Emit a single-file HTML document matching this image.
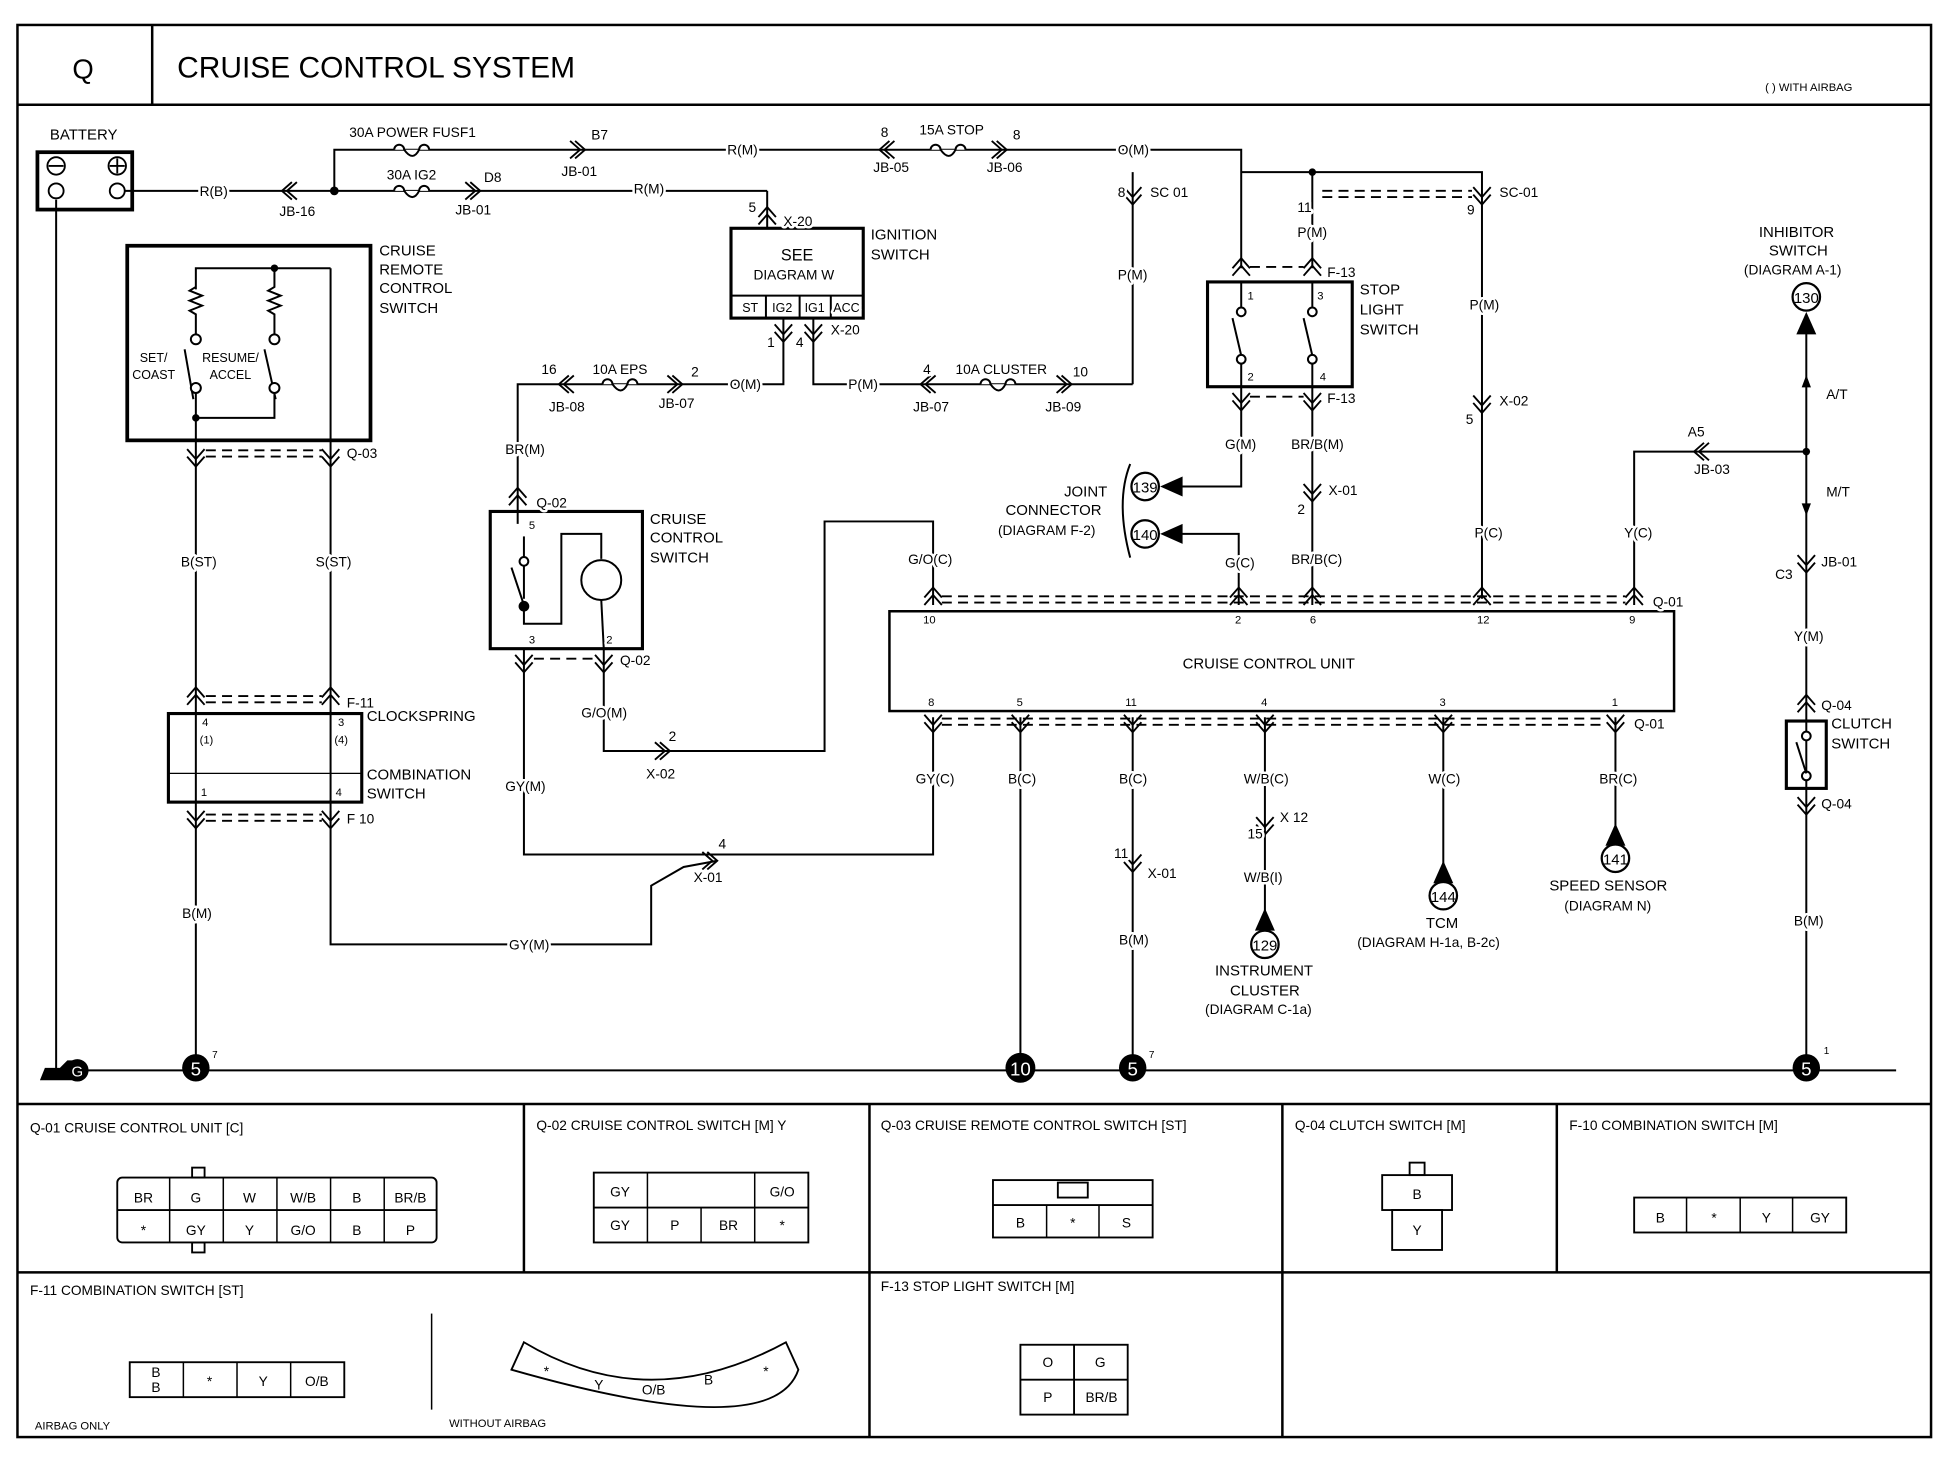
<!DOCTYPE html>
<html><head><meta charset="utf-8"><style>
html,body{margin:0;padding:0;background:#fff}
svg{display:block}
text{font-family:"Liberation Sans",sans-serif;fill:#000}
.h text{paint-order:stroke;stroke:#fff;stroke-width:4px;stroke-linejoin:round}
</style></head><body>
<svg width="1956" height="1472" viewBox="0 0 1568 1180" xmlns="http://www.w3.org/2000/svg">
<defs>
<symbol id="cd" overflow="visible"><path d="M-7,-5 L0,3 L7,-5 M-7,1 L0,9 L7,1" fill="none" stroke="#000" stroke-width="1.5"/></symbol>
<symbol id="cu" overflow="visible"><path d="M-7,5 L0,-3 L7,5 M-7,-1 L0,-9 L7,-1" fill="none" stroke="#000" stroke-width="1.5"/></symbol>
<symbol id="cl" overflow="visible"><path d="M5,-7 L-3,0 L5,7 M1,-7 L-7,0 L1,7" fill="none" stroke="#000" stroke-width="1.5"/></symbol>
<symbol id="cr" overflow="visible"><path d="M-5,-7 L3,0 L-5,7 M-1,-7 L7,0 L-1,7" fill="none" stroke="#000" stroke-width="1.5"/></symbol>
<symbol id="fuse" overflow="visible"><path d="M-14,0 a4,4 0 1 1 8,0 q7,10 12,0 a4,4 0 1 1 8,0" fill="#fff" stroke="#000" stroke-width="1.6"/></symbol>
</defs>
<rect width="1568" height="1180" fill="#fff"/>
<g fill="none" stroke="#000" stroke-width="2">
<rect x="14" y="20" width="1534" height="1132"/>
<line x1="14" y1="84" x2="1548" y2="84"/>
<line x1="122" y1="20" x2="122" y2="84"/>
<line x1="14" y1="885" x2="1548" y2="885"/>
<line x1="14" y1="1020" x2="1548" y2="1020"/>
<line x1="420" y1="885" x2="420" y2="1020"/>
<line x1="697" y1="885" x2="697" y2="1152"/>
<line x1="1028" y1="885" x2="1028" y2="1152"/>
<line x1="1248" y1="885" x2="1248" y2="1020"/>
</g>
<text x="58" y="63" font-size="22">Q</text>
<text x="142" y="62" font-size="24">CRUISE CONTROL SYSTEM</text>
<text x="1415" y="73" font-size="9">(      )  WITH AIRBAG</text>

<g fill="none" stroke="#000" stroke-width="1.6">
<rect x="30" y="122" width="76" height="46" stroke-width="3"/>
<line x1="45" y1="160" x2="45" y2="858"/>
<line x1="100" y1="153" x2="615" y2="153"/>
<polyline points="615,153 615,183"/>
<polyline points="268,153 268,120 995,120 995,215"/>
<polyline points="908,308 908,138"/>
<polyline points="995,138 1188,138 1188,480"/>
<line x1="1052" y1="138" x2="1052" y2="215"/>
<rect x="586" y="183" width="106" height="72" stroke-width="2.5"/>
<line x1="586" y1="237" x2="692" y2="237"/>
<line x1="614" y1="237" x2="614" y2="255"/><line x1="641" y1="237" x2="641" y2="255"/><line x1="666" y1="237" x2="666" y2="255"/>
<polyline points="628,255 628,308 415,308 415,420"/>
<polyline points="652,255 652,308 908,308"/>
<rect x="968" y="226" width="116" height="84" stroke-width="2.5"/>
<polyline points="995,310 995,390 945,390"/>
<polyline points="945,428 993,428 993,485"/>
<line x1="1052" y1="310" x2="1052" y2="485"/>
<rect x="713" y="490" width="629" height="80" stroke-width="2"/>
<polyline points="1310,485 1310,362 1448,362"/>
<line x1="1448" y1="260" x2="1448" y2="858"/>
<rect x="1432" y="578" width="32" height="54" stroke-width="2.5"/>
<polyline points="748,485 748,418 661,418 661,602 484,602 484,520"/>
<polyline points="748,575 748,685 420,685 420,520"/>
<polyline points="265,650 265,757 522,757 522,710 548,695 575,690"/>
<line x1="818" y1="575" x2="818" y2="858"/>
<line x1="908" y1="575" x2="908" y2="858"/>
<line x1="1014" y1="575" x2="1014" y2="735"/>
<line x1="1157" y1="575" x2="1157" y2="700"/>
<line x1="1295" y1="575" x2="1295" y2="670"/>
<rect x="102" y="197" width="195" height="156" stroke-width="3"/>
<line x1="157" y1="353" x2="157" y2="858"/>
<line x1="265" y1="353" x2="265" y2="660"/>
<rect x="135" y="572" width="155" height="71" stroke-width="2.5"/>
<line x1="135" y1="620" x2="290" y2="620" stroke-width="1"/>
<rect x="393" y="410" width="122" height="110" stroke-width="2.5"/>
<line x1="45" y1="858" x2="1520" y2="858"/>
<polyline points="157,232 157,215 265,215"/>
<path d="M157,230 l-5,3 10,4 -10,4 10,4 -10,4 5,3 v16"/>
<path d="M220,215 v15 l-5,3 10,4 -10,4 10,4 -10,4 5,3 v16"/>
<line x1="265" y1="215" x2="265" y2="353"/>
<line x1="157" y1="315" x2="157" y2="353"/>
<line x1="155" y1="320" x2="148" y2="280"/>
<line x1="221" y1="320" x2="212" y2="280"/>
<polyline points="157,335 220,335 220,314"/>
<circle cx="157" cy="272" r="4" fill="#fff"/><circle cx="157" cy="311" r="4" fill="#fff"/>
<circle cx="220" cy="272" r="4" fill="#fff"/><circle cx="220" cy="311" r="4" fill="#fff"/>
<polyline points="420,430 420,480"/>
<line x1="420" y1="485" x2="410" y2="455"/>
<circle cx="420" cy="450" r="3.5" fill="#fff"/><circle cx="420" cy="486" r="3.5" fill="#fff"/>
<polyline points="420,490 420,500 450,500 450,428 482,428 482,448"/>
<circle cx="482" cy="465" r="16"/>
<line x1="482" y1="481" x2="484" y2="520"/>
<circle cx="1448" cy="590" r="3.5" fill="#fff"/><circle cx="1448" cy="622" r="3.5" fill="#fff"/>
<line x1="1448" y1="620" x2="1440" y2="595"/>
<circle cx="995" cy="250" r="3.5" fill="#fff"/><circle cx="995" cy="288" r="3.5" fill="#fff"/>
<line x1="995" y1="285" x2="988" y2="255"/>
<circle cx="1052" cy="250" r="3.5" fill="#fff"/><circle cx="1052" cy="288" r="3.5" fill="#fff"/>
<line x1="1052" y1="285" x2="1045" y2="255"/>
<line x1="995" y1="226" x2="995" y2="246"/><line x1="995" y1="292" x2="995" y2="310"/>
<line x1="1052" y1="226" x2="1052" y2="246"/><line x1="1052" y1="292" x2="1052" y2="310"/>
<path d="M906,372 q-12,30 0,75" />
</g>
<g fill="none" stroke="#000" stroke-width="1.5">
<circle cx="45" cy="133" r="7"/><line x1="39" y1="133" x2="51" y2="133"/>
<circle cx="94" cy="133" r="7"/><line x1="88" y1="133" x2="100" y2="133"/><line x1="94" y1="127" x2="94" y2="139"/>
<circle cx="45" cy="153" r="6" fill="#fff"/><circle cx="94" cy="153" r="6" fill="#fff"/>
</g>
<circle cx="268" cy="153" r="3.5"/><circle cx="220" cy="215" r="3"/><circle cx="157" cy="335" r="3"/>
<circle cx="1052" cy="138" r="3"/><circle cx="1448" cy="362" r="3"/><circle cx="420" cy="486" r="3"/>
<use href="#fuse" x="330" y="120"/><use href="#fuse" x="330" y="153"/><use href="#fuse" x="760" y="120"/>
<use href="#fuse" x="497" y="308"/><use href="#fuse" x="800" y="308"/>
<use href="#cl" x="233" y="153"/><use href="#cr" x="462" y="120"/><use href="#cr" x="378" y="153"/>
<use href="#cl" x="712" y="120"/><use href="#cr" x="800" y="120"/>
<use href="#cu" x="615" y="175"/><use href="#cd" x="628" y="265"/><use href="#cd" x="652" y="265"/>
<use href="#cl" x="455" y="308"/><use href="#cr" x="540" y="308"/>
<use href="#cl" x="745" y="308"/><use href="#cr" x="852" y="308"/>
<use href="#cd" x="908" y="155"/><use href="#cd" x="1188" y="155"/>
<use href="#cu" x="995" y="216"/><use href="#cu" x="1052" y="216"/>
<use href="#cd" x="995" y="320"/><use href="#cd" x="1052" y="320"/>
<use href="#cd" x="1052" y="393"/><use href="#cd" x="1188" y="322"/>
<use href="#cu" x="415" y="400"/>
<use href="#cu" x="748" y="480"/><use href="#cu" x="993" y="480"/><use href="#cu" x="1052" y="480"/><use href="#cu" x="1188" y="480"/><use href="#cu" x="1310" y="480"/>
<use href="#cd" x="748" y="578"/><use href="#cd" x="818" y="578"/><use href="#cd" x="908" y="578"/><use href="#cd" x="1014" y="578"/><use href="#cd" x="1157" y="578"/><use href="#cd" x="1295" y="578"/>
<use href="#cd" x="157" y="365"/><use href="#cd" x="265" y="365"/>
<use href="#cu" x="157" y="560"/><use href="#cu" x="265" y="560"/>
<use href="#cd" x="157" y="655"/><use href="#cd" x="265" y="655"/>
<use href="#cd" x="420" y="530"/><use href="#cd" x="484" y="530"/>
<use href="#cr" x="530" y="602"/><use href="#cr" x="568" y="690"/>
<use href="#cd" x="908" y="690"/><use href="#cd" x="1014" y="660"/>
<use href="#cl" x="1365" y="362"/><use href="#cd" x="1448" y="450"/>
<use href="#cu" x="1448" y="566"/><use href="#cd" x="1448" y="644"/>
<g stroke="#000" stroke-width="1.5" stroke-dasharray="8,5">
<line x1="165" y1="361" x2="258" y2="361"/><line x1="165" y1="366" x2="258" y2="366"/>
<line x1="165" y1="558" x2="258" y2="558"/><line x1="165" y1="563" x2="258" y2="563"/>
<line x1="165" y1="653" x2="258" y2="653"/><line x1="165" y1="658" x2="258" y2="658"/>
<line x1="1060" y1="153" x2="1180" y2="153"/><line x1="1060" y1="158" x2="1180" y2="158"/>
<line x1="1002" y1="214" x2="1045" y2="214"/><line x1="1002" y1="318" x2="1045" y2="318"/>
<line x1="428" y1="528" x2="477" y2="528"/>
<line x1="755" y1="478" x2="1303" y2="478"/><line x1="755" y1="483" x2="1303" y2="483"/>
<line x1="755" y1="576" x2="1288" y2="576"/><line x1="755" y1="581" x2="1288" y2="581"/>
</g>
<path d="M1448,250 l-8,18 h16z"/><circle cx="1448" cy="238" r="11" fill="#fff" stroke="#000" stroke-width="1.8"/><text x="1448" y="243" font-size="12" text-anchor="middle">130</text>
<path d="M930,390 l18,-8 v16z"/><circle cx="918" cy="390" r="11" fill="#fff" stroke="#000" stroke-width="1.8"/><text x="918" y="395" font-size="12" text-anchor="middle">139</text>
<path d="M930,428 l18,-8 v16z"/><circle cx="918" cy="428" r="11" fill="#fff" stroke="#000" stroke-width="1.8"/><text x="918" y="433" font-size="12" text-anchor="middle">140</text>
<path d="M1014,728 l-8,18 h16z"/><circle cx="1014" cy="757" r="11" fill="#fff" stroke="#000" stroke-width="1.8"/><text x="1014" y="762" font-size="12" text-anchor="middle">129</text>
<path d="M1157,690 l-8,18 h16z"/><circle cx="1157" cy="718" r="11" fill="#fff" stroke="#000" stroke-width="1.8"/><text x="1157" y="723" font-size="12" text-anchor="middle">144</text>
<path d="M1295,660 l-8,18 h16z"/><circle cx="1295" cy="688" r="11" fill="#fff" stroke="#000" stroke-width="1.8"/><text x="1295" y="693" font-size="12" text-anchor="middle">141</text>
<path d="M1448,302 l-3,8 h6z M1448,310 v18" stroke="#000"/>
<path d="M1448,412 l-3,-8 h6z M1448,404 v-18" stroke="#000"/>
<circle cx="157" cy="856" r="11"/><text x="157" y="862" font-size="15" text-anchor="middle" style="fill:#fff">5</text>
<circle cx="818" cy="856" r="12"/><text x="818" y="862" font-size="15" text-anchor="middle" style="fill:#fff">10</text>
<circle cx="908" cy="856" r="11"/><text x="908" y="862" font-size="15" text-anchor="middle" style="fill:#fff">5</text>
<circle cx="1448" cy="856" r="11"/><text x="1448" y="862" font-size="15" text-anchor="middle" style="fill:#fff">5</text>
<path d="M32,866 l4,-10 h12 l6,-6 h10 v16z"/><circle cx="62" cy="858" r="9"/><text x="62" y="863" font-size="12" text-anchor="middle" style="fill:#fff">G</text>
<text x="170" y="848" font-size="8">7</text><text x="921" y="848" font-size="8">7</text><text x="1462" y="845" font-size="8">1</text>

<g font-size="11" class="h">
<text x="40" y="112" font-size="12">BATTERY</text>
<text x="160" y="157">R(B)</text><text x="224" y="173">JB-16</text>
<text x="280" y="110">30A POWER FUSF1</text>
<text x="310" y="144">30A IG2</text>
<text x="474" y="112">B7</text><text x="450" y="141">JB-01</text>
<text x="388" y="146">D8</text><text x="365" y="172">JB-01</text>
<text x="508" y="155">R(M)</text><text x="583" y="124">R(M)</text>
<text x="706" y="110">8</text><text x="737" y="108">15A STOP</text><text x="812" y="112">8</text>
<text x="700" y="138">JB-05</text><text x="791" y="138">JB-06</text>
<text x="896" y="124">O(M)</text>
<text x="600" y="170">5</text><text x="628" y="181">X-20</text>
<text x="626" y="209" font-size="13">SEE</text><text x="604" y="224">DIAGRAM  W</text>
<text x="595" y="250" font-size="10">ST</text><text x="619" y="250" font-size="10">IG2</text><text x="645" y="250" font-size="10">IG1</text><text x="668" y="250" font-size="10">ACC</text>
<text x="698" y="192" font-size="12">IGNITION</text><text x="698" y="208" font-size="12">SWITCH</text>
<text x="666" y="268">X-20</text><text x="615" y="278">1</text><text x="638" y="278">4</text>
<text x="434" y="300">16</text><text x="475" y="300">10A EPS</text><text x="554" y="302">2</text>
<text x="440" y="330">JB-08</text><text x="528" y="327">JB-07</text><text x="585" y="312">O(M)</text>
<text x="680" y="312">P(M)</text>
<text x="740" y="300">4</text><text x="766" y="300">10A CLUSTER</text><text x="860" y="302">10</text>
<text x="732" y="330">JB-07</text><text x="838" y="330">JB-09</text>
<text x="896" y="158">8</text><text x="922" y="158">SC 01</text>
<text x="896" y="224">P(M)</text>
<text x="1040" y="170">11</text><text x="1176" y="172">9</text><text x="1202" y="158">SC-01</text>
<text x="1040" y="190">P(M)</text><text x="1178" y="248">P(M)</text>
<text x="1064" y="222">F-13</text><text x="1064" y="323">F-13</text>
<text x="1000" y="240" font-size="9">1</text><text x="1056" y="240" font-size="9">3</text>
<text x="1000" y="305" font-size="9">2</text><text x="1058" y="305" font-size="9">4</text>
<text x="1090" y="236" font-size="12">STOP</text><text x="1090" y="252" font-size="12">LIGHT</text><text x="1090" y="268" font-size="12">SWITCH</text>
<text x="982" y="360">G(M)</text><text x="1035" y="360">BR/B(M)</text>
<text x="1065" y="397">X-01</text><text x="1040" y="412">2</text>
<text x="853" y="398" font-size="12">JOINT</text><text x="806" y="413" font-size="12">CONNECTOR</text><text x="800" y="429">(DIAGRAM  F-2)</text>
<text x="982" y="455">G(C)</text><text x="1035" y="452">BR/B(C)</text>
<text x="1202" y="325">X-02</text><text x="1175" y="340">5</text><text x="1182" y="431">P(C)</text>
<text x="1302" y="431">Y(C)</text>
<text x="1353" y="350">A5</text><text x="1358" y="380">JB-03</text>
<text x="1410" y="190" font-size="12">INHIBITOR</text><text x="1418" y="205" font-size="12">SWITCH</text><text x="1398" y="220">(DIAGRAM  A-1)</text>
<text x="1464" y="320">A/T</text><text x="1464" y="398">M/T</text>
<text x="1460" y="454">JB-01</text><text x="1423" y="464">C3</text><text x="1438" y="514">Y(M)</text>
<text x="1460" y="569">Q-04</text><text x="1460" y="648">Q-04</text>
<text x="1468" y="584" font-size="12">CLUTCH</text><text x="1468" y="600" font-size="12">SWITCH</text>
<text x="1438" y="742">B(M)</text>
<text x="1325" y="486">Q-01</text><text x="1310" y="584">Q-01</text>
<text x="740" y="500" font-size="9">10</text><text x="990" y="500" font-size="9">2</text><text x="1050" y="500" font-size="9">6</text><text x="1184" y="500" font-size="9">12</text><text x="1306" y="500" font-size="9">9</text>
<text x="948" y="536" font-size="12">CRUISE CONTROL UNIT</text>
<text x="744" y="566" font-size="9">8</text><text x="815" y="566" font-size="9">5</text><text x="902" y="566" font-size="9">11</text><text x="1011" y="566" font-size="9">4</text><text x="1154" y="566" font-size="9">3</text><text x="1292" y="566" font-size="9">1</text>
<text x="728" y="452">G/O(C)</text>
<text x="734" y="628">GY(C)</text><text x="808" y="628">B(C)</text><text x="897" y="628">B(C)</text><text x="997" y="628">W/B(C)</text><text x="1145" y="628">W(C)</text><text x="1282" y="628">BR(C)</text>
<text x="1026" y="659">X 12</text><text x="1000" y="672">15</text><text x="997" y="707">W/B(I)</text>
<text x="974" y="782" font-size="12">INSTRUMENT</text><text x="986" y="798" font-size="12">CLUSTER</text><text x="966" y="813">(DIAGRAM  C-1a)</text>
<text x="1143" y="744" font-size="12">TCM</text><text x="1088" y="759">(DIAGRAM  H-1a, B-2c)</text>
<text x="1242" y="714" font-size="12">SPEED SENSOR</text><text x="1254" y="730">(DIAGRAM  N)</text>
<text x="893" y="688">11</text><text x="920" y="704">X-01</text><text x="897" y="757">B(M)</text>
<text x="304" y="205" font-size="12">CRUISE</text><text x="304" y="220" font-size="12">REMOTE</text><text x="304" y="235" font-size="12">CONTROL</text><text x="304" y="251" font-size="12">SWITCH</text>
<text x="112" y="290" font-size="10">SET/</text><text x="106" y="304" font-size="10">COAST</text>
<text x="162" y="290" font-size="10">RESUME/</text><text x="168" y="304" font-size="10">ACCEL</text>
<text x="278" y="367">Q-03</text>
<text x="145" y="454">B(ST)</text><text x="253" y="454">S(ST)</text>
<text x="278" y="567">F-11</text><text x="278" y="660">F 10</text>
<text x="294" y="578" font-size="12">CLOCKSPRING</text>
<text x="294" y="625" font-size="12">COMBINATION</text><text x="294" y="640" font-size="12">SWITCH</text>
<text x="162" y="582" font-size="9">4</text><text x="160" y="596" font-size="9">(1)</text><text x="271" y="582" font-size="9">3</text><text x="268" y="596" font-size="9">(4)</text>
<text x="161" y="638" font-size="9">1</text><text x="269" y="638" font-size="9">4</text>
<text x="146" y="736">B(M)</text>
<text x="405" y="364">BR(M)</text><text x="430" y="407">Q-02</text>
<text x="424" y="424" font-size="9">5</text><text x="424" y="516" font-size="9">3</text><text x="486" y="516" font-size="9">2</text>
<text x="497" y="533">Q-02</text>
<text x="521" y="420" font-size="12">CRUISE</text><text x="521" y="435" font-size="12">CONTROL</text><text x="521" y="451" font-size="12">SWITCH</text>
<text x="466" y="575">G/O(M)</text><text x="536" y="594">2</text><text x="518" y="624">X-02</text>
<text x="405" y="634">GY(M)</text><text x="576" y="680">4</text><text x="556" y="707">X-01</text>
<text x="408" y="761">GY(M)</text>
</g>

<g font-size="11">
<text x="24" y="908">Q-01 CRUISE CONTROL UNIT [C]</text>
<text x="430" y="906">Q-02 CRUISE CONTROL SWITCH [M] Y</text>
<text x="706" y="906">Q-03 CRUISE REMOTE CONTROL SWITCH [ST]</text>
<text x="1038" y="906">Q-04 CLUTCH SWITCH [M]</text>
<text x="1258" y="906">F-10 COMBINATION SWITCH [M]</text>
<text x="24" y="1038">F-11 COMBINATION SWITCH [ST]</text>
<text x="706" y="1035">F-13 STOP LIGHT SWITCH [M]</text>
<text x="28" y="1146" font-size="9">AIRBAG ONLY</text>
<text x="360" y="1144" font-size="9">WITHOUT AIRBAG</text>
</g>
<line x1="346" y1="1053" x2="346" y2="1130" stroke="#000" stroke-width="1.2"/>
<g fill="none" stroke="#000" stroke-width="1.5">
<rect x="94" y="944" width="256" height="52" rx="4"/><line x1="94" y1="970" x2="350" y2="970"/>
<rect x="154" y="936" width="10" height="8"/><rect x="154" y="996" width="10" height="8"/>
<rect x="476" y="940" width="172" height="56"/><line x1="476" y1="968" x2="648" y2="968"/>
<rect x="796" y="946" width="128" height="46"/><line x1="796" y1="966" x2="924" y2="966"/>
<rect x="848" y="948" width="24" height="12"/>
<rect x="1108" y="942" width="56" height="28"/><rect x="1116" y="970" width="40" height="32"/><rect x="1130" y="932" width="12" height="10"/>
<rect x="1310" y="960" width="170" height="28"/>
<rect x="104" y="1092" width="172" height="28"/>
<path d="M410,1098 q210,60 230,0 l-10,-22 q-110,60 -210,0z"/>
<rect x="818" y="1078" width="86" height="56"/><line x1="818" y1="1106" x2="904" y2="1106"/><line x1="861" y1="1078" x2="861" y2="1134"/>
</g>
<g stroke="#000" stroke-width="1.2">
<line x1="136" y1="944" x2="136" y2="996"/><line x1="179" y1="944" x2="179" y2="996"/><line x1="222" y1="944" x2="222" y2="996"/><line x1="265" y1="944" x2="265" y2="996"/><line x1="308" y1="944" x2="308" y2="996"/>
<line x1="519" y1="940" x2="519" y2="996"/><line x1="605" y1="940" x2="605" y2="996"/><line x1="562" y1="968" x2="562" y2="996"/>
<line x1="839" y1="966" x2="839" y2="992"/><line x1="881" y1="966" x2="881" y2="992"/>
<line x1="1352" y1="960" x2="1352" y2="988"/><line x1="1395" y1="960" x2="1395" y2="988"/><line x1="1437" y1="960" x2="1437" y2="988"/>
<line x1="147" y1="1092" x2="147" y2="1120"/><line x1="190" y1="1092" x2="190" y2="1120"/><line x1="233" y1="1092" x2="233" y2="1120"/>
</g>
<g font-size="11" text-anchor="middle">
<text x="115" y="964">BR</text><text x="157" y="964">G</text><text x="200" y="964">W</text><text x="243" y="964">W/B</text><text x="286" y="964">B</text><text x="329" y="964">BR/B</text>
<text x="115" y="990">*</text><text x="157" y="990">GY</text><text x="200" y="990">Y</text><text x="243" y="990">G/O</text><text x="286" y="990">B</text><text x="329" y="990">P</text>
<text x="497" y="959">GY</text><text x="627" y="959">G/O</text>
<text x="497" y="986">GY</text><text x="541" y="986">P</text><text x="584" y="986">BR</text><text x="627" y="986">*</text>
<text x="818" y="984">B</text><text x="860" y="984">*</text><text x="903" y="984">S</text>
<text x="1136" y="961">B</text><text x="1136" y="990">Y</text>
<text x="1331" y="980">B</text><text x="1374" y="980">*</text><text x="1416" y="980">Y</text><text x="1459" y="980">GY</text>
<text x="125" y="1104">B</text><text x="125" y="1116">B</text><text x="168" y="1111">*</text><text x="211" y="1111">Y</text><text x="254" y="1111">O/B</text>
<text x="438" y="1103">*</text><text x="480" y="1114">Y</text><text x="524" y="1118">O/B</text><text x="568" y="1110">B</text><text x="614" y="1103">*</text>
<text x="840" y="1096">O</text><text x="882" y="1096">G</text><text x="840" y="1124">P</text><text x="883" y="1124">BR/B</text>
</g>
</svg>
</body></html>
